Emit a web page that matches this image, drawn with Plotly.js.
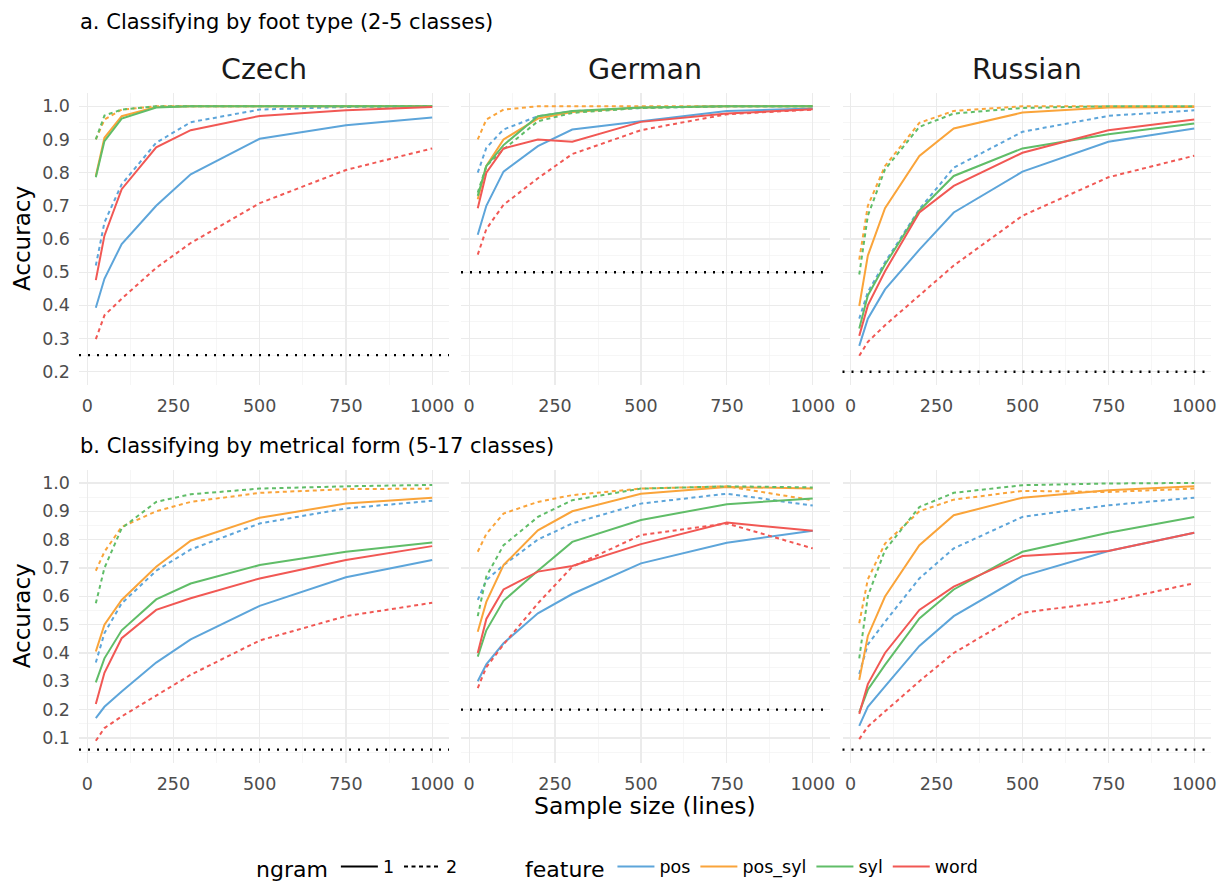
<!DOCTYPE html>
<html>
<head>
<meta charset="utf-8">
<script src="https://cdn.plot.ly/plotly-3.0.1.min.js"></script>
<style>html,body{margin:0;padding:0;background:#fff}#chart{width:1219px;height:884px}</style>
</head>
<body>
<div id="chart"></div>
<script>
// ---------- data ----------
const sampleSizes = [25, 50, 100, 200, 300, 500, 750, 1000];
const languages = ["Czech", "German", "Russian"];
const features = ["pos", "pos_syl", "syl", "word"];
const ngrams = ["1", "2"];
const rowTitles = ["a. Classifying by foot type (2-5 classes)", "b. Classifying by metrical form (5-17 classes)"];
const xTicks = [0, 250, 500, 750, 1000];

// a. foot type
const czechFoot_pos_1     = [0.393, 0.48, 0.585, 0.70, 0.795, 0.902, 0.943, 0.966];
const czechFoot_pos_2     = [0.52, 0.65, 0.765, 0.89, 0.952, 0.99, 0.998, 1.0];
const czechFoot_pos_syl_1 = [0.79, 0.905, 0.97, 0.998, 1.0, 1.0, 1.0, 1.0];
const czechFoot_pos_syl_2 = [0.90, 0.96, 0.99, 1.0, 1.0, 1.0, 1.0, 1.0];
const czechFoot_syl_1     = [0.786, 0.895, 0.963, 0.996, 1.0, 1.0, 1.0, 1.0];
const czechFoot_syl_2     = [0.90, 0.972, 0.99, 1.0, 1.0, 1.0, 1.0, 1.0];
const czechFoot_word_1    = [0.476, 0.61, 0.75, 0.876, 0.928, 0.971, 0.988, 0.998];
const czechFoot_word_2    = [0.298, 0.37, 0.42, 0.513, 0.588, 0.708, 0.808, 0.873];

const germanFoot_pos_1     = [0.613, 0.70, 0.803, 0.88, 0.93, 0.955, 0.986, 0.993];
const germanFoot_pos_2     = [0.80, 0.875, 0.93, 0.97, 0.985, 0.995, 1.0, 1.0];
const germanFoot_pos_syl_1 = [0.72, 0.82, 0.90, 0.963, 0.983, 0.996, 1.0, 1.0];
const germanFoot_pos_syl_2 = [0.90, 0.96, 0.99, 1.0, 1.0, 1.0, 1.0, 1.0];
const germanFoot_syl_1     = [0.73, 0.82, 0.883, 0.97, 0.986, 0.996, 1.0, 1.0];
const germanFoot_syl_2     = [0.74, 0.82, 0.87, 0.955, 0.98, 0.995, 1.0, 1.0];
const germanFoot_word_1    = [0.693, 0.80, 0.873, 0.90, 0.893, 0.953, 0.978, 0.991];
const germanFoot_word_2    = [0.553, 0.63, 0.703, 0.783, 0.856, 0.928, 0.976, 0.99];

const russianFoot_pos_1     = [0.278, 0.36, 0.448, 0.568, 0.68, 0.803, 0.893, 0.933];
const russianFoot_pos_2     = [0.36, 0.44, 0.53, 0.69, 0.815, 0.923, 0.971, 0.988];
const russianFoot_pos_syl_1 = [0.398, 0.55, 0.693, 0.85, 0.933, 0.981, 0.996, 0.998];
const russianFoot_pos_syl_2 = [0.538, 0.70, 0.82, 0.95, 0.986, 1.0, 1.0, 1.0];
const russianFoot_syl_1     = [0.33, 0.43, 0.523, 0.686, 0.79, 0.873, 0.916, 0.948];
const russianFoot_syl_2     = [0.493, 0.67, 0.81, 0.938, 0.978, 0.995, 1.0, 1.0];
const russianFoot_word_1    = [0.308, 0.40, 0.503, 0.68, 0.76, 0.86, 0.928, 0.96];
const russianFoot_word_2    = [0.248, 0.29, 0.34, 0.43, 0.52, 0.67, 0.786, 0.851];

// b. metrical form
const czechMetre_pos_1     = [0.17, 0.21, 0.264, 0.366, 0.448, 0.566, 0.667, 0.728];
const czechMetre_pos_2     = [0.366, 0.47, 0.575, 0.69, 0.765, 0.857, 0.91, 0.937];
const czechMetre_pos_syl_1 = [0.405, 0.50, 0.587, 0.704, 0.796, 0.877, 0.927, 0.948];
const czechMetre_pos_syl_2 = [0.69, 0.757, 0.845, 0.90, 0.933, 0.965, 0.978, 0.98];
const czechMetre_syl_1     = [0.296, 0.381, 0.48, 0.589, 0.645, 0.71, 0.757, 0.79];
const czechMetre_syl_2     = [0.575, 0.70, 0.84, 0.933, 0.96, 0.98, 0.988, 0.993];
const czechMetre_word_1    = [0.22, 0.33, 0.452, 0.552, 0.593, 0.663, 0.728, 0.777];
const czechMetre_word_2    = [0.09, 0.135, 0.176, 0.249, 0.323, 0.444, 0.53, 0.577];

const germanMetre_pos_1     = [0.30, 0.36, 0.434, 0.54, 0.608, 0.716, 0.789, 0.831];
const germanMetre_pos_2     = [0.587, 0.657, 0.71, 0.80, 0.857, 0.927, 0.962, 0.92];
const germanMetre_pos_syl_1 = [0.475, 0.58, 0.71, 0.833, 0.90, 0.962, 0.986, 0.98];
const germanMetre_pos_syl_2 = [0.757, 0.82, 0.892, 0.933, 0.957, 0.98, 0.988, 0.939];
const germanMetre_syl_1     = [0.387, 0.48, 0.584, 0.69, 0.792, 0.869, 0.925, 0.945];
const germanMetre_syl_2     = [0.53, 0.67, 0.78, 0.88, 0.939, 0.98, 0.988, 0.984];
const germanMetre_word_1    = [0.40, 0.52, 0.624, 0.687, 0.707, 0.784, 0.86, 0.831];
const germanMetre_word_2    = [0.276, 0.35, 0.43, 0.575, 0.704, 0.816, 0.857, 0.769];

const russianMetre_pos_1     = [0.143, 0.21, 0.282, 0.425, 0.53, 0.671, 0.76, 0.824];
const russianMetre_pos_2     = [0.326, 0.43, 0.51, 0.663, 0.769, 0.88, 0.921, 0.948];
const russianMetre_pos_syl_1 = [0.305, 0.46, 0.599, 0.78, 0.886, 0.948, 0.974, 0.988];
const russianMetre_pos_syl_2 = [0.505, 0.66, 0.786, 0.90, 0.941, 0.972, 0.968, 0.98];
const russianMetre_syl_1     = [0.19, 0.27, 0.358, 0.522, 0.624, 0.757, 0.824, 0.88];
const russianMetre_syl_2     = [0.381, 0.60, 0.763, 0.915, 0.965, 0.992, 0.998, 1.0];
const russianMetre_word_1    = [0.185, 0.29, 0.40, 0.552, 0.634, 0.742, 0.76, 0.824];
const russianMetre_word_2    = [0.096, 0.14, 0.194, 0.30, 0.40, 0.542, 0.581, 0.646];

// chance levels
const footChance  = [0.25, 0.5, 0.2];
const metreChance = [0.0588, 0.2, 0.0588];

// ---------- assembly ----------
const panels = [
  [ {pos:[czechFoot_pos_1,czechFoot_pos_2], pos_syl:[czechFoot_pos_syl_1,czechFoot_pos_syl_2], syl:[czechFoot_syl_1,czechFoot_syl_2], word:[czechFoot_word_1,czechFoot_word_2]},
    {pos:[germanFoot_pos_1,germanFoot_pos_2], pos_syl:[germanFoot_pos_syl_1,germanFoot_pos_syl_2], syl:[germanFoot_syl_1,germanFoot_syl_2], word:[germanFoot_word_1,germanFoot_word_2]},
    {pos:[russianFoot_pos_1,russianFoot_pos_2], pos_syl:[russianFoot_pos_syl_1,russianFoot_pos_syl_2], syl:[russianFoot_syl_1,russianFoot_syl_2], word:[russianFoot_word_1,russianFoot_word_2]} ],
  [ {pos:[czechMetre_pos_1,czechMetre_pos_2], pos_syl:[czechMetre_pos_syl_1,czechMetre_pos_syl_2], syl:[czechMetre_syl_1,czechMetre_syl_2], word:[czechMetre_word_1,czechMetre_word_2]},
    {pos:[germanMetre_pos_1,germanMetre_pos_2], pos_syl:[germanMetre_pos_syl_1,germanMetre_pos_syl_2], syl:[germanMetre_syl_1,germanMetre_syl_2], word:[germanMetre_word_1,germanMetre_word_2]},
    {pos:[russianMetre_pos_1,russianMetre_pos_2], pos_syl:[russianMetre_pos_syl_1,russianMetre_pos_syl_2], syl:[russianMetre_syl_1,russianMetre_syl_2], word:[russianMetre_word_1,russianMetre_word_2]} ]
];
const chance = [footChance, metreChance];

const colors = {pos:"#5DA5DA", pos_syl:"#FAA43A", syl:"#60BD68", word:"#F15854"};
const dashes = ["solid", "4px,3.5px"];
const W = 1219, H = 884;
const FONT = "DejaVu Sans, sans-serif";

// panel pixel boxes
const colPx = [[79, 449], [461, 829.5], [842.5, 1211]];
const rowPx = [[93, 385], [469.6, 763]];
const yRanges = [[0.16, 1.04], [0.0117, 1.047]];
const xRange = [-23.75, 1048.75];

const traces = [];
const layout = {
  width: W, height: H,
  margin: {l:0, r:0, t:0, b:0, autoexpand: false},
  paper_bgcolor: "#fff", plot_bgcolor: "#fff",
  font: {family: FONT, color: "#4D4D4D"},
  showlegend: true,
  annotations: [], shapes: []
};

for (let r = 0; r < 2; r++) {
  for (let c = 0; c < 3; c++) {
    const idx = r * 3 + c + 1;
    const xa = idx === 1 ? "x" : "x" + idx;
    const ya = idx === 1 ? "y" : "y" + idx;
    const xKey = idx === 1 ? "xaxis" : "xaxis" + idx;
    const yKey = idx === 1 ? "yaxis" : "yaxis" + idx;
    layout[xKey] = {
      domain: [colPx[c][0] / W, colPx[c][1] / W],
      anchor: ya, range: xRange, fixedrange: true, automargin: false,
      tickmode: "array", tickvals: xTicks, ticktext: xTicks.map(String),
      ticks: "", ticklabelstandoff: 8,
      tickfont: {size: 17.5, color: "#4D4D4D", family: FONT},
      showgrid: true, gridcolor: "#EBEBEB", gridwidth: 1.3,
      minor: {tickmode: "linear", tick0: 0, dtick: 125, showgrid: true, gridcolor: "#F2F2F2", gridwidth: 0.7, ticks: ""},
      zeroline: false, showline: false
    };
    layout[yKey] = {
      domain: [1 - rowPx[r][1] / H, 1 - rowPx[r][0] / H],
      anchor: xa, range: yRanges[r], fixedrange: true, automargin: false,
      tickmode: "linear", tick0: 0, dtick: 0.1, tickformat: ".1f",
      ticks: "", ticklabelstandoff: 8,
      showticklabels: c === 0,
      tickfont: {size: 17.5, color: "#4D4D4D", family: FONT},
      showgrid: true, gridcolor: "#EBEBEB", gridwidth: 1.3,
      minor: {tickmode: "linear", tick0: 0.05, dtick: 0.1, showgrid: true, gridcolor: "#F2F2F2", gridwidth: 0.7, ticks: ""},
      zeroline: false, showline: false
    };
    const p = panels[r][c];
    features.forEach(f => {
      [0, 1].forEach(n => {
        traces.push({
          type: "scatter", mode: "lines",
          x: sampleSizes, y: p[f][n],
          xaxis: xa, yaxis: ya,
          line: {color: colors[f], width: 2, dash: dashes[n]},
          showlegend: false, hoverinfo: "skip"
        });
      });
    });
    layout.shapes.push({
      type: "line", xref: xa + " domain", x0: 0, x1: 1,
      yref: ya, y0: chance[r][c], y1: chance[r][c],
      line: {color: "#000", width: 2.4, dash: "2px,7px"}, layer: "above"
    });
    if (r === 0) {
      layout.annotations.push({
        text: languages[c], xref: "paper", yref: "paper",
        x: (colPx[c][0] + colPx[c][1]) / 2 / W, y: 1 - 70 / H,
        xanchor: "center", yanchor: "middle", showarrow: false,
        font: {size: 28.5, color: "#1A1A1A", family: FONT}
      });
    }
  }
  layout.annotations.push({
    text: rowTitles[r], xref: "paper", yref: "paper",
    x: 78 / W, y: 1 - (r === 0 ? 22 : 446) / H,
    xanchor: "left", yanchor: "middle", showarrow: false,
    font: {size: 21, color: "#000", family: FONT}
  });
  layout.annotations.push({
    text: "Accuracy", xref: "paper", yref: "paper",
    x: 22 / W, y: 1 - (rowPx[r][0] + rowPx[r][1]) / 2 / H,
    xanchor: "center", yanchor: "middle", textangle: -90, showarrow: false,
    font: {size: 23, color: "#000", family: FONT}
  });
}
layout.annotations.push({
  text: "Sample size (lines)", xref: "paper", yref: "paper",
  x: 645 / W, y: 1 - 806 / H, xanchor: "center", yanchor: "middle", showarrow: false,
  font: {size: 23.5, color: "#000", family: FONT}
});

// legend entries (through the library's legend)
ngrams.forEach((g, n) => {
  traces.push({type: "scatter", mode: "lines", x: [null], y: [null], name: g,
    line: {color: "#000", width: 2, dash: dashes[n]}, legend: "legend", showlegend: true, hoverinfo: "skip"});
});
features.forEach(f => {
  traces.push({type: "scatter", mode: "lines", x: [null], y: [null], name: f,
    line: {color: colors[f], width: 2, dash: "solid"}, legend: "legend2", showlegend: true, hoverinfo: "skip"});
});
const legendBase = {
  orientation: "h", yanchor: "middle", xanchor: "left", y: 16 / H,
  bgcolor: "rgba(0,0,0,0)", font: {size: 17.5, color: "#000", family: FONT},
  itemwidth: 37,
  itemclick: false, itemdoubleclick: false, tracegroupgap: 0
};
layout.legend = Object.assign({}, legendBase, {x: 254 / W, title: {text: "ngram", side: "left", font: {size: 22, color: "#000", family: FONT}}});
layout.legend2 = Object.assign({}, legendBase, {x: 523 / W, title: {text: "feature", side: "left", font: {size: 22, color: "#000", family: FONT}}});

Plotly.newPlot("chart", traces, layout, {staticPlot: true, displayModeBar: false});
</script>
</body>
</html>
